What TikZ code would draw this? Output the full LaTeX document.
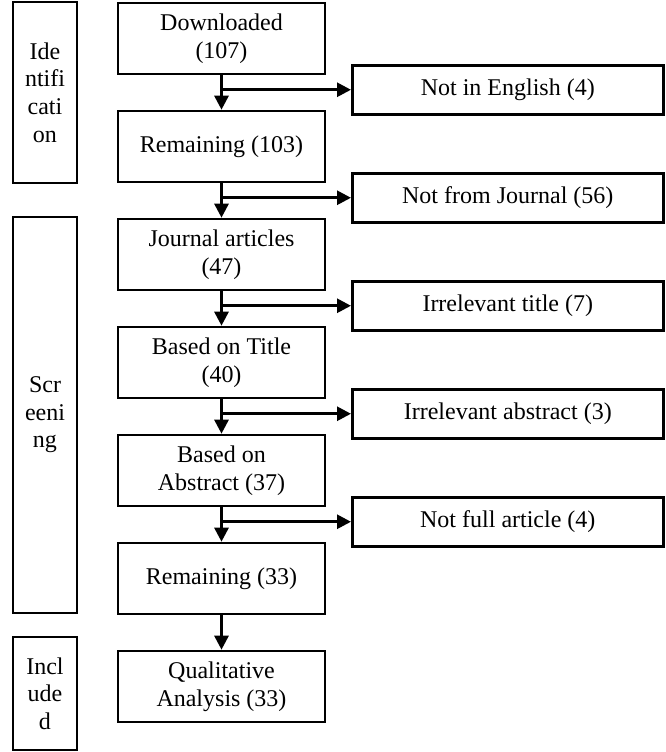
\documentclass[tikz,border=0pt]{standalone}
\usepackage{fontspec}
\setmainfont{Liberation Serif}
\usetikzlibrary{arrows.meta, positioning, calc}

\begin{document}
\begin{tikzpicture}[
    x=0.5pt, y=0.5pt,
    node distance=17.2pt and 64.75pt,
    stage/.style={draw, rectangle, line width=1.3pt, minimum width=103.5pt, minimum height=35.5pt, inner sep=2pt, align=center, font=\fontsize{12}{13.8}\selectfont},
    excl/.style={draw, rectangle, line width=1.3pt, minimum width=155.5pt, minimum height=24.5pt, inner sep=2pt, align=center, font=\fontsize{12}{13.8}\selectfont},
    phase/.style={draw, rectangle, line width=1.3pt, minimum width=32pt, inner sep=1pt, align=center, font=\fontsize{12}{13.8}\selectfont},
    arrow/.style={-{Triangle[width=7pt,length=7pt]}, line width=1.4pt}
]
\useasboundingbox (0,0) rectangle (666,-752);

% main column
\node[stage] (down) at (221.5,-38.5) {Downloaded\\(107)};
\node[stage, below=of down] (rem1) {Remaining (103)};
\node[stage, below=of rem1] (jour) {Journal articles\\(47)};
\node[stage, below=of jour] (title) {Based on Title\\(40)};
\node[stage, below=of title] (abs) {Based on\\Abstract (37)};
\node[stage, below=of abs] (rem2) {Remaining (33)};
\node[stage, below=of rem2] (qual) {Qualitative\\Analysis (33)};

% branch points
\coordinate (b1) at ($(down.south)!0.42!(rem1.north)$);
\coordinate (b2) at ($(rem1.south)!0.42!(jour.north)$);
\coordinate (b3) at ($(jour.south)!0.42!(title.north)$);
\coordinate (b4) at ($(title.south)!0.42!(abs.north)$);
\coordinate (b5) at ($(abs.south)!0.42!(rem2.north)$);

% excluded records
\node[excl, right=of b1] (eng) {Not in English (4)};
\node[excl, right=of b2] (nojour) {Not from Journal (56)};
\node[excl, right=of b3] (irrtitle) {Irrelevant title (7)};
\node[excl, right=of b4] (irrabs) {Irrelevant abstract (3)};
\node[excl, right=of b5] (nofull) {Not full article (4)};

% phases
\node[phase, minimum height=90.5pt] (ident) at (45,-92.5) {Ide\\ntifi\\cati\\on};
\node[phase, minimum height=198pt] (screen) at (45,-415) {Scr\\eeni\\ng};
\node[phase, minimum height=56.5pt] (incl) at (45,-693.5) {Incl\\ude\\d};

\draw[arrow] (down) -- (rem1);
\draw[arrow] (rem1) -- (jour);
\draw[arrow] (jour) -- (title);
\draw[arrow] (title) -- (abs);
\draw[arrow] (abs) -- (rem2);
\draw[arrow] (rem2) -- (qual);
\draw[arrow] (b1) -- (eng);
\draw[arrow] (b2) -- (nojour);
\draw[arrow] (b3) -- (irrtitle);
\draw[arrow] (b4) -- (irrabs);
\draw[arrow] (b5) -- (nofull);
\end{tikzpicture}
\end{document}
